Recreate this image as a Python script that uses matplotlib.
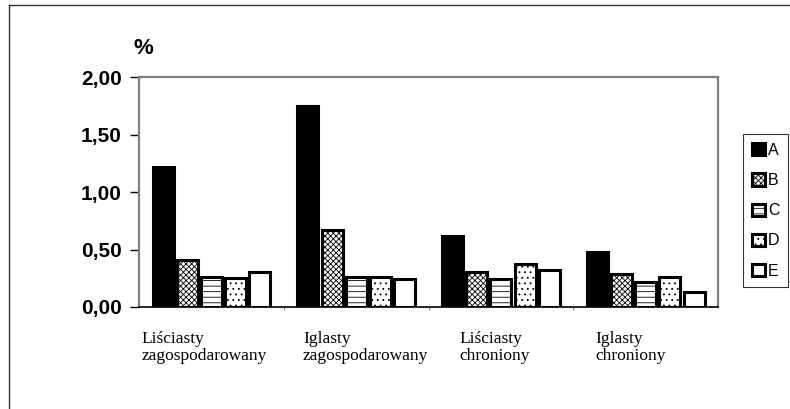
import numpy as np
import matplotlib
matplotlib.use("Agg")
import matplotlib.pyplot as plt
from matplotlib.patches import Patch
from matplotlib.lines import Line2D

# data
categories = ["Liściasty\nzagospodarowany", "Iglasty\nzagospodarowany",
              "Liściasty\nchroniony", "Iglasty\nchroniony"]
series = ["A", "B", "C", "D", "E"]
val_A = [1.22, 1.75, 0.62, 0.48]
val_B = [0.41, 0.67, 0.30, 0.29]
val_C = [0.26, 0.26, 0.24, 0.22]
val_D = [0.25, 0.26, 0.37, 0.26]
val_E = [0.30, 0.24, 0.32, 0.13]
y_ticks = [0.0, 0.5, 1.0, 1.5, 2.0]
y_labels = ["0,00", "0,50", "1,00", "1,50", "2,00"]

values = [val_A, val_B, val_C, val_D, val_E]
fills = ["black", "white", "white", "white", "white"]
hatches = [None, "xxxxxx", "---", "...", None]

plt.rcParams["hatch.linewidth"] = 0.6
plt.rcParams["hatch.color"] = "black"

fig = plt.figure(figsize=(7.9, 4.09), dpi=100)
ax = fig.add_axes([0.176, 0.2494, 0.733, 0.5623])

x = np.arange(len(categories))
slot = 0.167
bw = 0.145
for i, (vals, fc, h) in enumerate(zip(values, fills, hatches)):
    ax.bar(x + (i - 2) * slot, vals, width=bw, color=fc, edgecolor="black",
           linewidth=2.2, hatch=h, zorder=3)

ax.set_xlim(-0.5, 3.5)
ax.set_ylim(0, 2.0)
ax.set_yticks(y_ticks)
ax.set_yticklabels(y_labels, fontfamily="Liberation Sans", fontweight="bold", fontsize=15)
ax.tick_params(axis="y", direction="out", length=6.5, width=1, color="black", pad=6)

# small tick marks at the category borders
ax.set_xticks([0.5, 1.5, 2.5])
ax.set_xticklabels([])
ax.tick_params(axis="x", direction="out", length=2, width=0.8, color="#808080")

for s in ["top", "right", "left"]:
    ax.spines[s].set_color("#808080")
    ax.spines[s].set_linewidth(1.6)
ax.spines["bottom"].set_color("black")
ax.spines["bottom"].set_linewidth(1.2)

# category labels, left aligned under each group
label_x = [-0.48, 0.633, 1.71, 2.65]
for lx, txt in zip(label_x, categories):
    ax.text(lx, -0.105, txt, ha="left", va="top", fontfamily="Liberation Serif",
            fontsize=12.5, linespacing=1.1, transform=ax.get_xaxis_transform())

fig.text(133 / 790, 1 - 49 / 409, "%", ha="left", va="center",
         fontfamily="Liberation Sans", fontweight="bold", fontsize=16)

# legend
handles = [Patch(facecolor=fc, edgecolor="black", linewidth=2.2, hatch=h)
           for fc, h in zip(fills, hatches)]
leg = fig.legend(handles, series, loc="upper left", bbox_to_anchor=(0.9405, 0.672),
                 frameon=True, fancybox=False, handlelength=0.8, handleheight=0.8,
                 handletextpad=0.2, labelspacing=0.95, borderpad=0.55,
                 borderaxespad=0, prop={"family": "Liberation Sans", "size": 11.5})
leg.get_frame().set_edgecolor("black")
leg.get_frame().set_linewidth(0.8)

# outer frame of the picture (left and top only, the rest is cut off)
fig.add_artist(Line2D([9 / 790, 9 / 790], [0, 1 - 5 / 409], color="#333333", linewidth=1.0))
fig.add_artist(Line2D([9 / 790, 1], [1 - 5 / 409, 1 - 5 / 409], color="#333333", linewidth=1.0))

fig.savefig("out.png", dpi=100)
